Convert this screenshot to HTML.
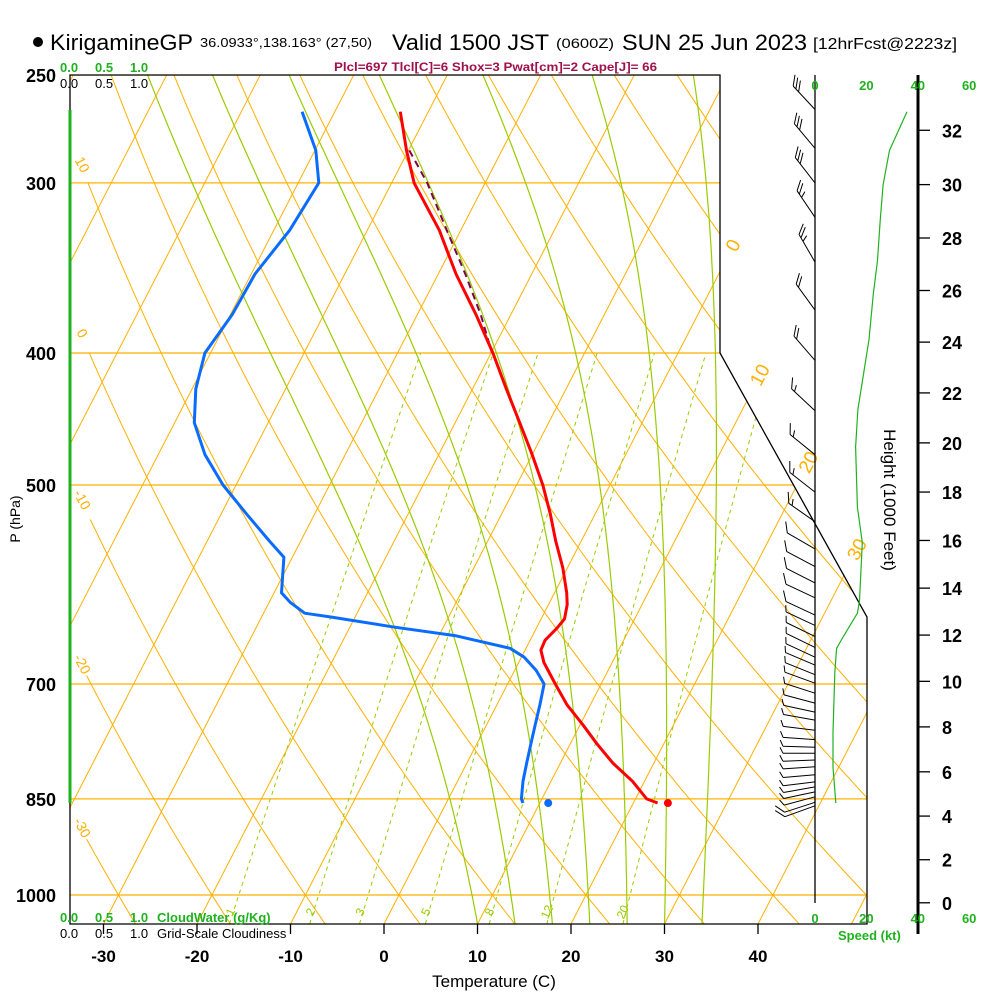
<!DOCTYPE html>
<html><head><meta charset="utf-8"><title>KirigamineGP sounding</title>
<style>
html,body{margin:0;padding:0;background:#fff;width:1000px;height:1000px;overflow:hidden}
svg{display:block;font-family:"Liberation Sans",sans-serif}
</style></head>
<body>
<svg id="chart" width="1000" height="1000" viewBox="0 0 1000 1000" xmlns="http://www.w3.org/2000/svg">
<defs><clipPath id="plotclip"><polygon points="70,75 720,75 720,353 867,617 867,924 70,924"/></clipPath></defs>
<g>
<circle cx="38" cy="42" r="5" fill="#000"/>
<text x="50" y="50" font-size="22" textLength="143" lengthAdjust="spacingAndGlyphs">KirigamineGP</text>
<text x="200" y="47" font-size="13" textLength="172" lengthAdjust="spacingAndGlyphs">36.0933°,138.163° (27,50)</text>
<text x="392" y="50" font-size="22" textLength="157" lengthAdjust="spacingAndGlyphs">Valid 1500 JST</text>
<text x="556" y="48" font-size="14" textLength="58" lengthAdjust="spacingAndGlyphs">(0600Z)</text>
<text x="622" y="50" font-size="22" textLength="185" lengthAdjust="spacingAndGlyphs">SUN 25 Jun 2023</text>
<text x="813" y="49" font-size="16" textLength="144" lengthAdjust="spacingAndGlyphs">[12hrFcst@2223z]</text>
<text x="334" y="71" font-size="12" font-weight="bold" fill="#a0104c" textLength="323" lengthAdjust="spacingAndGlyphs">Plcl=697 Tlcl[C]=6 Shox=3 Pwat[cm]=2 Cape[J]= 66</text>
</g>
<g id="grid" clip-path="url(#plotclip)"></g>
<g id="profiles"></g>
<g id="axes"></g>
</svg>
<script>
// ---- data ----
const PRESSURE_LINES=[250,300,400,500,700,850,1000];
const ISOTHERMS=[-120,-110,-100,-90,-80,-70,-60,-50,-40,-30,-20,-10,0,10,20,30,40,50];
const DRY_THETAS=[-40,-30,-20,-10,0,10,20,30,40,50,60,70,80,90,100,110,120,130,140,150,160];
const DRY_LABELS=[-30,-20,-10,0,10];
const ISO_LABELS=[0,10,20,30];
const MOIST_START=[10,14,18,22,26,30,34];
const MIX_RATIOS=[1,2,3,5,8,12,20];
const TEMP_TICKS=[-30,-20,-10,0,10,20,30,40];
const HEIGHT_TICKS=[0,2,4,6,8,10,12,14,16,18,20,22,24,26,28,30,32];
const SPEED_TICKS=[0,20,40,60];
const T_P=[266,284,300,325,350,375,400,425,450,475,500,525,550,575,600,612,627,637,650,661,675,700,725,750,775,800,825,850,856];
const T_C=[-43.0,-40.2,-37.6,-32.3,-28.1,-23.7,-19.8,-16.4,-13.1,-10.0,-7.2,-4.8,-2.7,-0.5,1.3,2.0,2.5,2.2,1.6,1.7,2.7,5.1,7.5,10.3,12.9,15.6,18.7,21.2,22.6];
const TD_P=[266,284,300,325,350,375,400,425,450,475,500,525,550,565,600,610,621,625,636,645,659,669,684,700,725,750,775,800,825,850,856];
const TD_C=[-53.5,-49.9,-47.8,-48.3,-49.6,-49.8,-50.6,-49.6,-47.9,-45.0,-41.4,-37.3,-33.3,-30.9,-29.2,-27.7,-25.6,-22.6,-15.1,-8.3,-1.7,0.3,2.3,3.9,4.6,5.2,5.8,6.4,7.0,7.8,8.2];
const PARCEL_P=[284,300,325,350,375,400];
const PARCEL_C=[-39.9,-36.2,-31.5,-27.1,-23.2,-19.9];
const SFC_P=856, SFC_T=23.7, SFC_TD=10.9;
const WIND_P=[265,283,300,318,343,372,405,441,475,506,532,557,574,590,605,623,634,646,658,669,678,689,699,711,723,734,744,757,769,779,787,796,805,816,826,833,840,847,855,860];
const WIND_DIR=[317,320,322,326,330,324,319,313,309,308,305,300,298,297,295,295,295,296,296,295,293,292,290,288,285,282,280,277,274,272,270,268,266,265,263,260,258,255,252,250];
const WIND_KT=[30,30,30,25,25,20,20,15,15,15,15,10,10,10,10,10,5,5,5,5,5,5,5,5,5,5,5,5,5,5,5,5,5,5,5,5,5,5,10,10];
const SPD_P=[856,837,806,760,687,659,647,621,608,551,519,469,440,391,362,342,319,301,284,266];
const SPD_KT=[8.1,7.7,7,7,7.7,8.4,10.8,16.5,17.3,18.4,16.5,15.8,16.7,21,22.7,24.3,25.4,26.5,29,35.8];

// ---- axis functions ----
const NS='http://www.w3.org/2000/svg';
function yP(p){return 895+591.5*Math.log(p/1000);}
function xT(T,p){return 384+9.35*T+0.515*(924-yP(p));}
function xSpd(k){return 815+2.57*k;}
function pStd(hk){return 1013.25*Math.pow(1-6.8756e-6*hk*1000,5.2559);}
function el(tag,attrs,parent){const e=document.createElementNS(NS,tag);for(const k in attrs)e.setAttribute(k,attrs[k]);parent.appendChild(e);return e;}
const grid=document.getElementById('grid'),prof=document.getElementById('profiles'),axes=document.getElementById('axes');
const ORANGE='#ffb000',MOIST='#99cc00',GREEN='#1fb21f';
function es(Tc){return 6.112*Math.exp(17.67*Tc/(Tc+243.5));}

PRESSURE_LINES.forEach(p=>{const l=el('line',{x1:70,x2:867,y1:yP(p),y2:yP(p),stroke:ORANGE,'stroke-width':1.2},grid);

});
ISOTHERMS.forEach(T=>{const l=el('line',{x1:xT(T,1050),y1:yP(1050),x2:xT(T,240),y2:yP(240),stroke:ORANGE,'stroke-width':1},grid);

});
DRY_THETAS.forEach(th=>{let pts=[];for(let p=1050;p>=240;p-=10){const T=(th+273.15)*Math.pow(p/1000,0.286)-273.15;const x=xT(T,p);if(x>=86)pts.push(x.toFixed(1)+','+yP(p).toFixed(1));}
if(pts.length<2)return;const l=el('polyline',{points:pts.join(' '),fill:'none',stroke:ORANGE,'stroke-width':1},grid);

});
MOIST_START.forEach(T0=>{let T=T0+273.15,p=1050,pts=[];const Rd=287,cp=1004,Lv=2.5e6,eps=0.622;
function d(T,p){const e=es(T-273.15);const rs=eps*e/(p-e);return (Rd*T+Lv*rs)/(p*(cp+Lv*Lv*rs*eps/(Rd*T*T)));}
while(p>=240){pts.push(xT(T-273.15,p).toFixed(1)+','+yP(p).toFixed(1));const dp=-5;const k1=d(T,p);const k2=d(T+k1*dp,p+dp);T+=0.5*(k1+k2)*dp;p+=dp;}
const l=el('polyline',{points:pts.join(' '),fill:'none',stroke:MOIST,'stroke-width':1.2},grid);

});
function tMix(w,p){const e=w*p/(622+w);const a=Math.log(e/6.112);return 243.5*a/(17.67-a);}
MIX_RATIOS.forEach(w=>{let pts=[];for(let p=1050;p>=400;p-=10)pts.push(xT(tMix(w,p),p).toFixed(1)+','+yP(p).toFixed(1));
const l=el('polyline',{points:pts.join(' '),fill:'none',stroke:MOIST,'stroke-width':1,'stroke-dasharray':'4,4'},grid);


const lx=xT(tMix(w,1025),1025),ly=yP(1025)+4;
const t=el('text',{x:lx,y:ly,'font-size':12,fill:MOIST,'text-anchor':'middle',transform:`rotate(-65 ${lx} ${ly})`},axes);t.textContent=w;

});
DRY_LABELS.forEach(th=>{let best=null;for(let p=1050;p>=240;p-=1){const T=(th+273.15)*Math.pow(p/1000,0.286)-273.15;if(xT(T,p)<=84){best=p;break;}}
if(!best)return;const x=78,y=yP(best)-4;
const t=el('text',{x:x,y:y,'font-size':14,fill:ORANGE,'text-anchor':'middle',transform:`rotate(62 ${x} ${y})`},axes);t.textContent=th;

});
ISO_LABELS.forEach(T=>{const xo=384+9.35*T;let ye;const a=xo+0.515*924;
const yBox=924-(720-xo)/0.515; if(yBox<=353)ye=yBox; else ye=(a-720+0.557*353)/(0.515+0.557);
const y=ye-26,x=xo+0.515*(924-y);
const t=el('text',{x:x,y:y+6,'font-size':19,fill:ORANGE,'text-anchor':'middle',transform:`rotate(-62 ${x} ${y})`},axes);t.textContent=T;

});

function line(P,Tv,color,w,name,dash){const pts=P.map((p,i)=>xT(Tv[i],p).toFixed(1)+','+yP(p).toFixed(1));
const l=el('polyline',{points:pts.join(' '),fill:'none',stroke:color,'stroke-width':w,'stroke-linejoin':'round'},prof);if(dash)l.setAttribute('stroke-dasharray',dash);

}
line(PARCEL_P,PARCEL_C,'#800050',2,'parcel-path','7,5');
line(TD_P,TD_C,'#0a6cff',3,'dewpoint-profile');
line(T_P,T_C,'#ff0000',3,'temperature-profile');
const st=el('circle',{cx:xT(SFC_T,SFC_P),cy:yP(SFC_P),r:4,fill:'#ff0000'},prof);


const sd=el('circle',{cx:xT(SFC_TD,SFC_P),cy:yP(SFC_P),r:4,fill:'#0a6cff'},prof);



const fr=el('path',{d:'M70,75 H720 V353 L867,617 V924 H70 Z',fill:'none',stroke:'#000','stroke-width':1.3},axes);


const cw=el('line',{x1:70,x2:70,y1:110,y2:803,stroke:GREEN,'stroke-width':3},axes);


const staff=el('line',{x1:815,x2:815,y1:75,y2:903,stroke:'#000','stroke-width':1.3},axes);


const hax=el('line',{x1:918,x2:918,y1:75,y2:934,stroke:'#000','stroke-width':3},axes);



PRESSURE_LINES.forEach(p=>{const t=el('text',{x:56,y:yP(p)+7,'font-size':18,'font-weight':'bold','text-anchor':'end'},axes);t.textContent=p;

});
const pt=el('text',{x:20,y:519,'font-size':14,'text-anchor':'middle',transform:'rotate(-90 20 519)'},axes);pt.textContent='P (hPa)';


TEMP_TICKS.forEach(T=>{const x=384+9.35*T;const tk=el('line',{x1:x,x2:x,y1:924,y2:934,stroke:'#000','stroke-width':1.3},axes);


const t=el('text',{x:x,y:962,'font-size':17,'font-weight':'bold','text-anchor':'middle'},axes);t.textContent=T;

});
const xt=el('text',{x:494,y:987,'font-size':17,'text-anchor':'middle'},axes);xt.textContent='Temperature (C)';


HEIGHT_TICKS.forEach(h=>{const y=yP(pStd(h));const tk=el('line',{x1:918,x2:930,y1:y,y2:y,stroke:'#000','stroke-width':1.3},axes);


const t=el('text',{x:942,y:y+7,'font-size':18,'font-weight':'bold'},axes);t.textContent=h;

});
const ht=el('text',{x:884,y:500,'font-size':17,'text-anchor':'middle',transform:'rotate(90 884 500)'},axes);ht.textContent='Height (1000 Feet)';


SPEED_TICKS.forEach(s=>{[90,923].forEach((y,i)=>{const t=el('text',{x:xSpd(s),y:y,'font-size':13,'font-weight':'bold',fill:GREEN,'text-anchor':'middle'},axes);t.textContent=s;

});});
const sk=el('text',{x:838,y:940,'font-size':13,'font-weight':'bold',fill:GREEN},axes);sk.textContent='Speed (kt)';


[['0.0',60],['0.5',95],['1.0',130]].forEach(([s,x])=>{[[72,GREEN,'top-cloudwater-'],[88,'#000','top-cloudiness-'],[922,GREEN,'bottom-cloudwater-'],[938,'#000','bottom-cloudiness-']].forEach(([y,c,n])=>{
const t=el('text',{x:x,y:y,'font-size':13,'font-weight':c===GREEN?'bold':'normal',fill:c},axes);t.textContent=s;

});});
const cwl=el('text',{x:157,y:922,'font-size':13,'font-weight':'bold',fill:GREEN},axes);cwl.textContent='CloudWater (g/Kg)';


const gsl=el('text',{x:157,y:938,'font-size':13},axes);gsl.textContent='Grid-Scale Cloudiness';



const sp=el('polyline',{points:SPD_P.map((p,i)=>xSpd(SPD_KT[i]).toFixed(1)+','+yP(p).toFixed(1)).join(' '),fill:'none',stroke:GREEN,'stroke-width':1.2},axes);



WIND_P.forEach((p,i)=>{const d=WIND_DIR[i]*Math.PI/180;const ux=Math.sin(d),uy=-Math.cos(d);const L=32;
const x0=815,y0=yP(p),x1=x0+ux*L,y1=y0+uy*L;let path=`M${x0},${y0.toFixed(1)} L${x1.toFixed(1)},${y1.toFixed(1)}`;
const fx=-uy,fy=ux;let k=WIND_KT[i],pos=0;
while(k>=10){const bx=x1-ux*pos,by=y1-uy*pos;path+=` M${bx.toFixed(1)},${by.toFixed(1)} l${(fx*9+ux*7).toFixed(1)},${(fy*9+uy*7).toFixed(1)}`;k-=10;pos+=4;}
if(k>=5){const bx=x1-ux*pos,by=y1-uy*pos;path+=` M${bx.toFixed(1)},${by.toFixed(1)} l${(fx*6+ux*3).toFixed(1)},${(fy*6+uy*3).toFixed(1)}`;}
const b=el('path',{d:path,fill:'none',stroke:'#000','stroke-width':1},axes);

});
</script>
</body></html>
